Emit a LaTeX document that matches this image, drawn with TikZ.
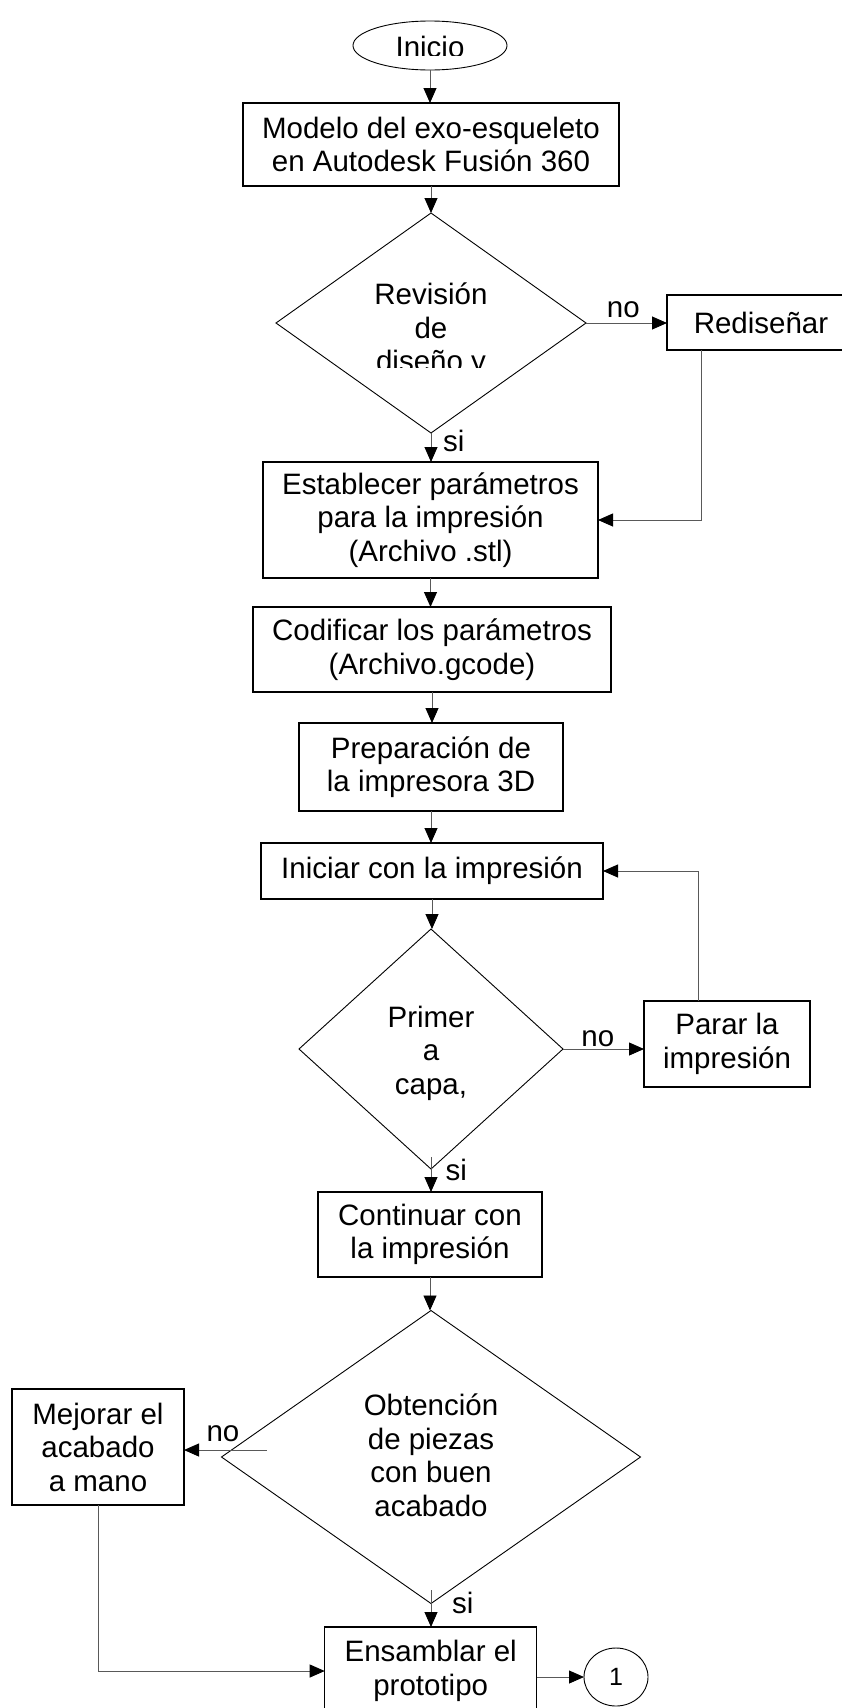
\documentclass[tikz,border=0pt]{standalone}
\usepackage{fontspec}
\setmainfont{Liberation Sans}
\usetikzlibrary{shapes.geometric,arrows.meta,calc}
\tikzset{
  every node/.style={font=\fontsize{29.5pt}{33.5pt}\selectfont},
  box/.style={draw=black, line width=1.1pt, rectangle, inner sep=0pt, outer sep=0pt, align=center},
  dia/.style={draw=black, line width=0.9pt, diamond, inner sep=0pt, outer sep=0pt},
  oval/.style={draw=black, line width=0.9pt, ellipse, inner sep=0pt, outer sep=0pt},
  conn/.style={draw=black!65, line width=0.9pt},
  arr/.style={conn, -{Triangle[length=15pt,width=13pt,color=black]}},
  lbl/.style={anchor=base, inner sep=0pt, outer sep=0pt},
}
\begin{document}
\begin{tikzpicture}[x=1pt,y=-1pt]
\useasboundingbox (0,0) rectangle (842,1708);
\clip (0,0) rectangle (842,1708);
\fill[white] (0,0) rectangle (842,1708);

% nodes
\node[oval, minimum width=154pt, minimum height=49pt] (ini) at (430,45.5) {};
\begin{scope}
  \clip (360,25) rectangle (500,55);
  \node[lbl] (initxt) at (430,57.7) {Inicio};
\end{scope}
\node[box, minimum width=376pt, minimum height=83pt] (m1) at (431,144.5) {Modelo del exo-esqueleto\\en Autodesk Fusión 360};
\node[dia, minimum width=310pt, minimum height=220pt] (d1) at (431,323) {};
\begin{scope}
  \clip (340,270) rectangle (520,367.3);
  \node[lbl, align=center] (d1txt) at (431,371.5) {Revisión\\de\\diseño y};
\end{scope}
\node[box, minimum width=188pt, minimum height=55pt] (red) at (761,322.5) {Rediseñar};
\node[box, minimum width=335pt, minimum height=116pt] (m2) at (430.5,520) {Establecer parámetros\\para la impresión\\(Archivo .stl)};
\node[box, minimum width=358pt, minimum height=85pt] (m3) at (432,649.5) {Codificar los parámetros\\(Archivo.gcode)};
\node[box, minimum width=264pt, minimum height=88pt] (m4) at (431,767) {Preparación de\\la impresora 3D};
\node[box, minimum width=342pt, minimum height=56pt] (m5) at (432,871) {Iniciar con la impresión};
\node[dia, minimum width=264pt, minimum height=240pt] (d2) at (431,1049) {};
\node[lbl, align=center] (d2txt) at (431,1094) {Primer\\a\\capa,};
\node[box, minimum width=166pt, minimum height=86pt] (par) at (727,1044) {Parar la\\impresión};
\node[box, minimum width=224pt, minimum height=85pt] (m6) at (430,1234.5) {Continuar con\\la impresión};
\node[dia, minimum width=419pt, minimum height=293pt] (d3) at (431,1457) {};
\node[lbl, align=center] (d3txt) at (431,1516) {Obtención\\de piezas\\con buen\\acabado};
\node[box, minimum width=172pt, minimum height=116pt] (mej) at (98,1447) {Mejorar el\\acabado\\a mano};
\node[box, minimum width=212pt, minimum height=88pt] (ens) at (430.7,1671) {Ensamblar el\\prototipo};
\node[oval, minimum width=64pt, minimum height=58pt, font=\fontsize{25pt}{28pt}\selectfont] (c1) at (616,1677) {1};

% connectors
\draw[arr] (ini.south) -- (ini.south |- m1.north);
\draw[arr] (m1.south) -- (m1.south |- d1.north);
\draw[arr] (d1.east) -- (d1.east -| red.west) node[lbl, pos=0.46, yshift=5.5pt] {no};
\draw[arr] ($(red.south west)+(34,0)$) |- (m2.east);
\draw[arr] (d1.south) -- (d1.south |- m2.north);
\node[lbl, anchor=base west] (si1) at ($(d1.south)+(12,18.7)$) {si};
\draw[arr] (m2.south) -- (m2.south |- m3.north);
\draw[arr] (m3.south) -- (m3.south |- m4.north);
\draw[arr] (m4.south) -- (m4.south |- m5.north);
\draw[arr] (m5.south) -- (m5.south |- d2.north);
\draw[arr] (d2.east) -- (d2.east -| par.west) node[lbl, pos=0.43, yshift=3pt] {no};
\draw[arr] ($(par.north west)+(54,0)$) |- (m5.east);
\draw[arr] ($(d2.south)+(0,-12)$) -- (d2.south |- m6.north);
\node[lbl, anchor=base west] (si2) at ($(d2.south)+(14.5,11)$) {si};
\draw[arr] (m6.south) -- (m6.south |- d3.north);
\coordinate (d3no) at ($(d3.west)+(45,-7)$);
\draw[arr] (d3no) -- (d3no -| mej.east);
\node[lbl] (no3) at (223,1441.7) {no};
\draw[arr] ($(d3.south)+(0,-13.5)$) -- (d3.south |- ens.north);
\node[lbl, anchor=base west] (si3) at ($(d3.south)+(21,9.5)$) {si};
\draw[arr] (mej.south) |- (ens.west);
\draw[arr] (ens.east |- c1.west) -- (c1.west);
\end{tikzpicture}
\end{document}
